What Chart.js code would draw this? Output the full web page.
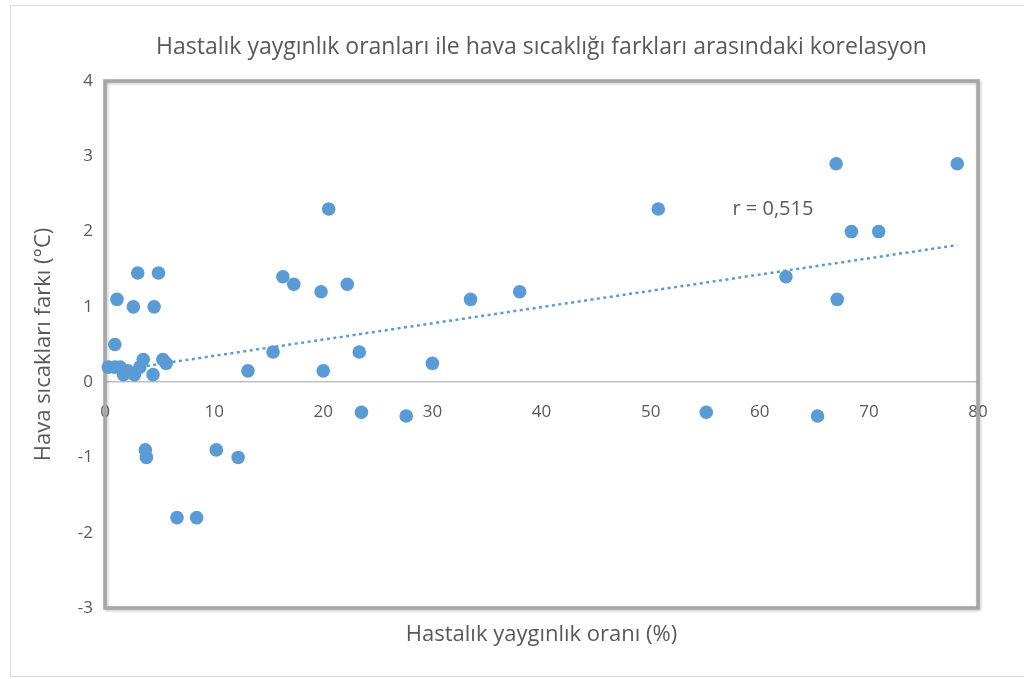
<!DOCTYPE html>
<html>
<head>
<meta charset="utf-8">
<script src="https://cdn.jsdelivr.net/npm/chart.js@4.4.1/dist/chart.umd.min.js"></script>
<style>
  html, body { margin: 0; padding: 0; background: #fff; }
  #wrap { width: 1024px; height: 679px; }
</style>
</head>
<body>
<div id="wrap"><canvas id="corrChart" width="1024" height="679"></canvas></div>
<script>
// values
const prevalence = [0.3, 0.9, 1.4, 0.9, 1.1, 1.7, 2.1, 2.7, 2.6, 3.0, 3.2, 3.5, 3.7, 3.8,
  4.4, 4.5, 4.9, 5.3, 5.6, 6.6, 8.4, 10.2, 12.2, 13.1, 15.4, 16.3, 17.3, 19.8, 20.0,
  20.5, 22.2, 23.3, 23.5, 27.6, 30.0, 33.5, 38.0, 50.7, 55.1, 62.4, 65.3, 67.0, 67.1,
  68.4, 70.9, 78.1];
const tempDiff = [0.2, 0.2, 0.2, 0.5, 1.1, 0.1, 0.15, 0.1, 1.0, 1.45, 0.2, 0.3, -0.9, -1.0,
  0.1, 1.0, 1.45, 0.3, 0.25, -1.8, -1.8, -0.9, -1.0, 0.15, 0.4, 1.4, 1.3, 1.2, 0.15,
  2.3, 1.3, 0.4, -0.4, -0.45, 0.25, 1.1, 1.2, 2.3, -0.4, 1.4, -0.45, 2.9, 1.1,
  2.0, 2.0, 2.9];
const trendX = [0.3, 78.1];
const trendY = [0.14, 1.82];
const xTicks = [0, 10, 20, 30, 40, 50, 60, 70, 80];
const yTicks = [-3, -2, -1, 0, 1, 2, 3, 4];
const rText = 'r = 0,515';

const textColor = '#595959';
const blue = '#5b9bd5';
const fontFamily = '"Open Sans", Lato, sans-serif';

const points = prevalence.map((x, i) => ({ x: x, y: tempDiff[i] }));
const trend = trendX.map((x, i) => ({ x: x, y: trendY[i] }));

// outer frame, plot border and the r label
const framePlugin = {
  id: 'frame',
  beforeDraw(chart) {
    const ctx = chart.ctx;
    ctx.save();
    ctx.fillStyle = '#fff';
    ctx.fillRect(0, 0, chart.width, chart.height);
    ctx.strokeStyle = '#d9d9d9';
    ctx.lineWidth = 1;
    ctx.strokeRect(10.5, 5.5, chart.width, chart.height - 8);
    ctx.restore();
  },
  beforeDatasetsDraw(chart) {
    const a = chart.chartArea;
    const ctx = chart.ctx;
    ctx.save();
    ctx.shadowColor = 'rgba(0,0,0,0.25)';
    ctx.shadowBlur = 3;
    ctx.shadowOffsetX = 1;
    ctx.shadowOffsetY = 1;
    ctx.strokeStyle = '#a6a6a6';
    ctx.lineWidth = 3.5;
    ctx.strokeRect(a.left, a.top, a.right - a.left, a.bottom - a.top);
    ctx.restore();
  },
  afterDatasetsDraw(chart) {
    const ctx = chart.ctx;
    const xs = chart.scales.x, ys = chart.scales.y;
    ctx.save();
    ctx.fillStyle = textColor;
    ctx.font = '20px ' + fontFamily;
    ctx.textAlign = 'left';
    ctx.textBaseline = 'middle';
    ctx.fillText(rText, xs.getPixelForValue(57.5), ys.getPixelForValue(2.29));
    ctx.restore();
  }
};

const ctx = document.getElementById('corrChart').getContext('2d');
const corrChart = new Chart(ctx, {
  type: 'scatter',
  data: {
    datasets: [
      {
        label: 'Veri',
        data: points,
        backgroundColor: blue,
        borderWidth: 0,
        pointRadius: 6.8,
        pointHoverRadius: 6.8,
        clip: false,
        order: 0,
      },
      {
        label: 'Trend',
        data: trend,
        type: 'line',
        showLine: true,
        borderColor: blue,
        borderWidth: 2.5,
        borderDash: [3, 3.5],
        pointRadius: 0,
        fill: false,
        order: 1,
      },
    ],
  },
  options: {
    responsive: false,
    animation: false,
    devicePixelRatio: 1,
    layout: { padding: { left: 12, right: 46, top: 10, bottom: 30.8 } },
    plugins: {
      legend: { display: false },
      tooltip: { enabled: false },
      title: {
        display: true,
        fullSize: false,
        text: 'Hastalık yaygınlık oranları ile hava sıcaklığı farkları arasındaki korelasyon',
        color: textColor,
        font: { family: fontFamily, size: 23, weight: 'normal', lineHeight: 1.2 },
        padding: { top: 23.2, bottom: 20.2 },
      },
      subtitle: {
        display: true,
        fullSize: false,
        position: 'bottom',
        text: 'Hastalık yaygınlık oranı (%)',
        color: textColor,
        font: { family: fontFamily, size: 22, weight: 'normal', lineHeight: 1.2 },
        padding: { top: 13.8, bottom: 0 },
      },
    },
    scales: {
      x: {
        type: 'linear',
        min: 0,
        max: 80,
        position: { y: 0 },
        afterBuildTicks: (s) => { s.ticks = xTicks.map((v) => ({ value: v })); },
        ticks: { color: textColor, font: { family: fontFamily, size: 17 }, padding: 20 },
        grid: { drawOnChartArea: false, drawTicks: false },
        border: { color: '#c0c0c0', width: 1.5 },
      },
      y: {
        type: 'linear',
        position: 'left',
        min: -3,
        max: 4,
        afterBuildTicks: (s) => { s.ticks = yTicks.map((v) => ({ value: v })); },
        afterFit: (s) => { s.width = 93; },
        ticks: { color: textColor, font: { family: fontFamily, size: 17 }, padding: 12 },
        grid: { display: false, drawTicks: false },
        border: { display: false },
        title: {
          display: true,
          text: 'Hava sıcakları farkı (°C)',
          color: textColor,
          font: { family: fontFamily, size: 22, lineHeight: 1.2 },
          padding: { top: 18.8, bottom: 0 },
        },
      },
    },
  },
  plugins: [framePlugin],
});
</script>
</body>
</html>
